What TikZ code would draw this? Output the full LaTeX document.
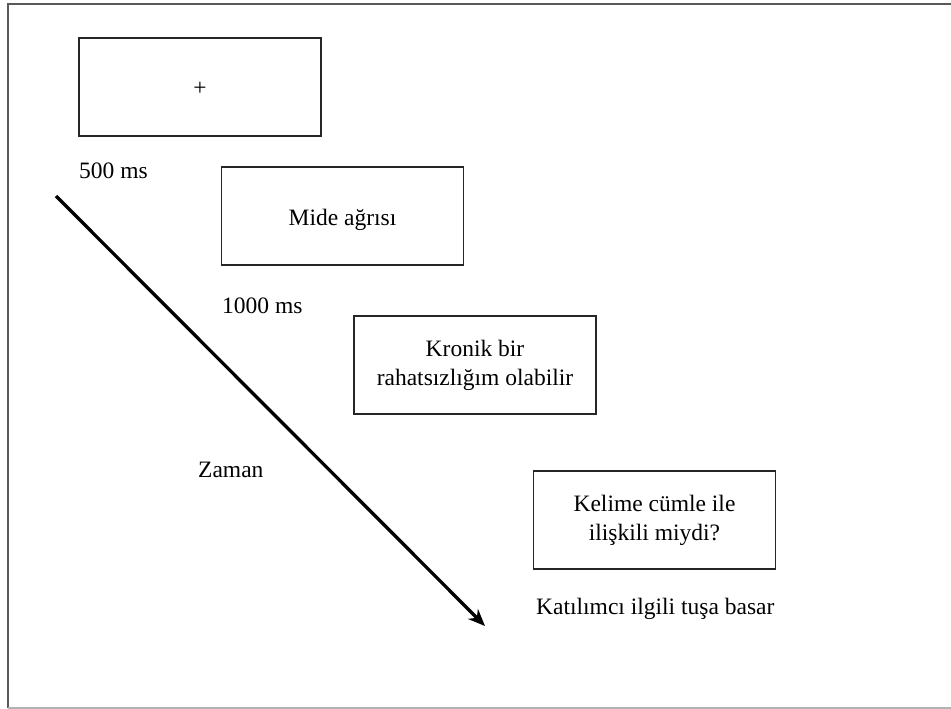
\documentclass[tikz,border=0pt]{standalone}
\usepackage{fontspec}
\setmainfont{Liberation Serif}
\usetikzlibrary{arrows, arrows.meta, positioning}
\tikzset{
  screen/.style = {draw=black!85, line width=1.2bp, align=center,
    inner sep=0pt, minimum width=242bp, minimum height=98bp},
  oneline/.style = {text height=19bp, text depth=1bp},
  lbl/.style = {anchor=base west, inner sep=0pt}
}

\begin{document}
\begin{tikzpicture}[x=1bp, y=-1bp, font=\fontsize{23.5bp}{29bp}\selectfont]
\useasboundingbox (0,0) rectangle (951,709);
% frame
\draw [black!65, line width=1.5bp] (951,4) -- (8,4) -- (8,708);
\draw [black!30, line width=1.5bp] (8,708) -- (951,708);
% screens
\node [screen, oneline] (fix) at (200,87) {+};
\node [screen, oneline] (word) at (342.5,216) {Mide ağrısı};
\node [screen] (sent) at (475,365) {Kronik bir\\rahatsızlığım olabilir};
\node [screen] (quest) at (654.5,520) {Kelime cümle ile\\ilişkili miydi?};
% durations
\node [lbl] (d500) at (79,179) {500 ms};
\node [lbl] (d1000) at (222,313) {1000 ms};
\node [lbl] (resp) at (536,614) {Katılımcı ilgili tuşa basar};
\node [lbl] (zaman) at (198,477) {Zaman};
% time arrow
\coordinate (t0) at (56,196);
\coordinate (t1) at (485,626);
\draw [->, >={Stealth[length=17bp, width=14bp]}, line width=3.3bp] (t0) -- (t1);
\end{tikzpicture}
\end{document}
